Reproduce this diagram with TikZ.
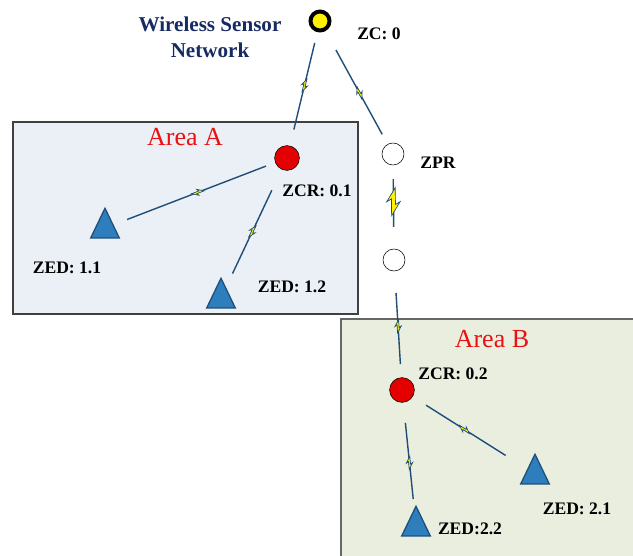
\documentclass[tikz,border=0pt]{standalone}
\usepackage{fontspec}
\setmainfont{Liberation Serif}
\usetikzlibrary{shapes.geometric}

\definecolor{areaAfill}{RGB}{235,240,247}
\definecolor{areaBfill}{RGB}{233,238,222}
\definecolor{areared}{RGB}{232,18,18}
\definecolor{navy}{RGB}{23,43,99}
\definecolor{linkblue}{RGB}{31,78,121}
\definecolor{devblue}{RGB}{46,125,188}
\definecolor{routerred}{RGB}{228,0,0}

\tikzset{
  coord/.style={circle, draw, fill=yellow, line width=2.8pt,
    minimum size=0.475cm, inner sep=0pt},
  router/.style={circle, draw, fill=routerred, minimum size=0.62cm, inner sep=0pt},
  relay/.style={circle, draw, fill=white, minimum size=0.55cm, inner sep=0pt},
  enddev/.style={regular polygon, regular polygon sides=3, draw=linkblue,
    line width=0.9pt, fill=devblue, minimum size=0.825cm, inner sep=0pt,
    yscale=1.2, transform shape},
  tag/.style={font=\fontsize{12.5}{14}\selectfont\bfseries},
  arealabel/.style={text=areared, font=\fontsize{18.5}{20}\selectfont},
  link/.style={draw=linkblue, line width=1pt},
  bolt/.pic={
    \filldraw[draw=linkblue, fill=yellow, line width=0.5pt, line join=miter]
      (-5,-0.7) -- (1,-0.7) -- (0,-2.4) -- (5,0.7) -- (-1,0.7) -- (0,2.4) -- cycle;
  }
}

\begin{document}
\begin{tikzpicture}[x=0.025cm, y=-0.025cm]
\clip (0,0) rectangle (633,555);
% --- Areas ---
\fill[areaAfill] (13,122) rectangle (358,314);
\draw[black!75, line width=0.8pt] (13,122) rectangle (358,314);
\fill[areaBfill] (341,319) rectangle (645,565);
\draw[black!60, line width=0.8pt] (341,319) rectangle (645,565);
\node[arealabel] (areaA) at (185,137) {Area A};
\node[arealabel] (areaB) at (492,339) {Area B};

% --- Title ---
\node[align=center, text=navy, font=\fontsize{15}{18.5}\selectfont\bfseries]
  (title) at (210,37) {Wireless Sensor\\Network};

% --- Nodes ---
\node[coord] (zc) at (320,21) {};
\node[router] (zcr1) at (287,158) {};
\node[relay] (zpr) at (393,154) {};
\node[relay] (hop) at (394,260) {};
\node[router] (zcr2) at (402,390) {};
% end devices (centroid sits a bit below the middle of the box)
\node[enddev] (zed11) at (105,228) {};
\node[enddev] (zed12) at (221,298) {};
\node[enddev] (zed21) at (535,474) {};
\node[enddev] (zed22) at (416,526) {};

% --- Labels ---
\node[tag] (zclab) at (379,34) {ZC: 0};
\node[tag] (zcr1lab) at (317,191) {ZCR: 0.1};
\node[tag] (zprlab) at (438,163) {ZPR};
\node[tag] (zcr2lab) at (453,374) {ZCR: 0.2};
\node[tag] (zed11lab) at (67,268) {ZED: 1.1};
\node[tag] (zed12lab) at (292,287) {ZED: 1.2};
\node[tag] (zed21lab) at (577,509) {ZED: 2.1};
\node[tag] (zed22lab) at (470,529) {ZED:2.2};

% --- Radio links ---
\draw[link, shorten <=16pt, shorten >=20.8pt] (zc.center) -- (zcr1.center)
  pic[pos=.47, sloped, scale=1.3]{bolt};
\draw[link, shorten <=23.5pt, shorten >=16pt] (zc.center) -- (zpr.center)
  pic[pos=.54, sloped, scale=1.3]{bolt};
\draw[link, shorten <=16pt, shorten >=16.8pt] (zcr1.center) -- (zed11.center)
  pic[pos=.49, sloped, scale=1.3]{bolt};
\draw[link, shorten <=25.3pt, shorten >=19.2pt] (zcr1.center) -- (zed12.center)
  pic[pos=.525, sloped, scale=1.3]{bolt};
\draw[link, shorten <=17.8pt, shorten >=23.5pt] (zpr.center) -- (hop.center)
  pic[pos=.45, sloped, scale=2.8]{bolt};
\draw[link, shorten <=23.5pt, shorten >=18.5pt] (hop.center) -- (zcr2.center)
  pic[pos=.51, sloped, scale=1.3]{bolt};
\draw[link, shorten <=20.2pt, shorten >=24.7pt] (zcr2.center) -- (zed21.center)
  pic[pos=.47, sloped, scale=1.3]{bolt};
\draw[link, shorten <=23.5pt, shorten >=19.3pt] (zcr2.center) -- (zed22.center)
  pic[pos=.536, sloped, scale=1.3]{bolt};
\end{tikzpicture}
\end{document}
